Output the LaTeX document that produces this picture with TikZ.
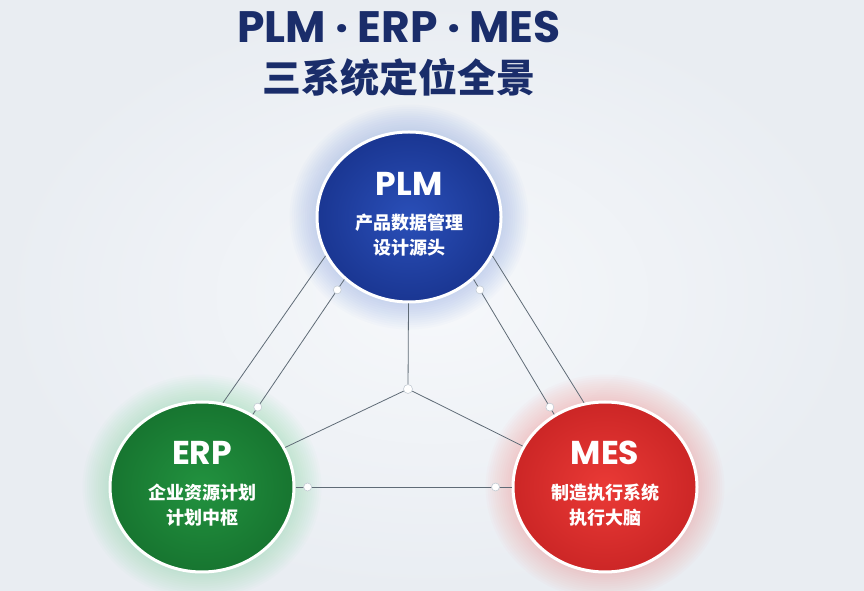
\documentclass[tikz,border=0pt]{standalone}
\usepackage{fontspec}
\usepackage{xcolor}
\usepackage{tikz}
\usetikzlibrary{backgrounds,shapes.geometric}

\newfontfamily\popfont{Poppins}
\newfontfamily\cjk{Noto Sans CJK SC}

\definecolor{bgin}{HTML}{F6F8FB}
\definecolor{bgout}{HTML}{E9EDF2}
\definecolor{navy}{HTML}{1A2D6A}
\definecolor{plmin}{HTML}{2A4FB8}
\definecolor{plmout}{HTML}{1A3692}
\definecolor{erpin}{HTML}{22923F}
\definecolor{erpout}{HTML}{177530}
\definecolor{mesin}{HTML}{EA3A36}
\definecolor{mesout}{HTML}{CC2626}
\definecolor{plmglow}{HTML}{5A86E8}
\definecolor{erpglow}{HTML}{5CC987}
\definecolor{mesglow}{HTML}{F06A64}
\definecolor{linkgray}{HTML}{5F6B76}
\definecolor{jointgray}{HTML}{C4CCD4}

\begin{document}
\begin{tikzpicture}[x=1pt, y=1pt,
  sys/.style={ellipse, draw=white, line width=3pt, minimum width=184pt, minimum height=170pt, inner sep=0pt},
  syshead/.style={text=white, font=\popfont\bfseries\fontsize{33}{33}\selectfont},
  syssub/.style={text=white, align=center, font=\cjk\bfseries\fontsize{18}{25}\selectfont},
  joint/.style={circle, draw=jointgray, fill=white, line width=0.6pt, inner sep=0pt, minimum size=8pt},
  link/.style={draw=linkgray, line width=0.8pt}]
\useasboundingbox (0,0) rectangle (864,591);

% Title
\node[text=navy, font=\popfont\bfseries\fontsize{44}{44}\selectfont] (title) at (399,564) {PLM · ERP · MES};
\node[text=navy, font=\cjk\bfseries\fontsize{39}{39}\selectfont] (subtitle) at (399,513) {三系统定位全景};

% Systems
\node[sys, inner color=plmin, outer color=plmout] (plm) at (409,374) {};
\node[sys, inner color=erpin, outer color=erpout] (erp) at (202,104) {};
\node[sys, inner color=mesin, outer color=mesout] (mes) at (605,104) {};
\node[joint, minimum size=9pt] (hub) at (408,202) {};

\node[syshead] (plmname) at ([yshift=33]plm.center) {PLM};
\node[syssub] (plmtext) at ([yshift=-18]plm.center) {产品数据管理\\设计源头};
\node[syshead] (erpname) at ([yshift=34]erp.center) {ERP};
\node[syssub] (erptext) at ([yshift=-18]erp.center) {企业资源计划\\计划中枢};
\node[syshead] (mesname) at ([yshift=34]mes.center) {MES};
\node[syssub] (mestext) at ([yshift=-18]mes.center) {制造执行系统\\执行大脑};

%Lines
\draw[link] (plm) -- (hub);
\draw[link] (hub) -- (erp);
\draw[link] (hub) -- (mes);
\draw[link] (plm.205) -- (erp.76);
\draw[link] (plm.335) -- (mes.104);
\draw[link] (plm.224) -- node[joint, pos=0.077] (j1) {} node[joint, pos=0.946] (j2) {} (erp.55);
\draw[link] (plm.316) -- node[joint, pos=0.077] (j3) {} node[joint, pos=0.946] (j4) {} (mes.125);
\draw[link] (erp) -- node[joint, pos=0.056] (j5) {} node[joint, pos=0.926] (j6) {} (mes);

% Glow
\begin{scope}[on background layer]
\shade[inner color=bgin, outer color=bgout] (0,0) rectangle (864,591);
\foreach \n/\c in {plm/plmglow, erp/erpglow, mes/mesglow}
  \foreach \g in {1,...,12}
    \fill[\c, opacity=0.025] (\n) ellipse[x radius={93+2.2*\g}, y radius={86+2.2*\g}];
\end{scope}
\end{tikzpicture}
\end{document}
